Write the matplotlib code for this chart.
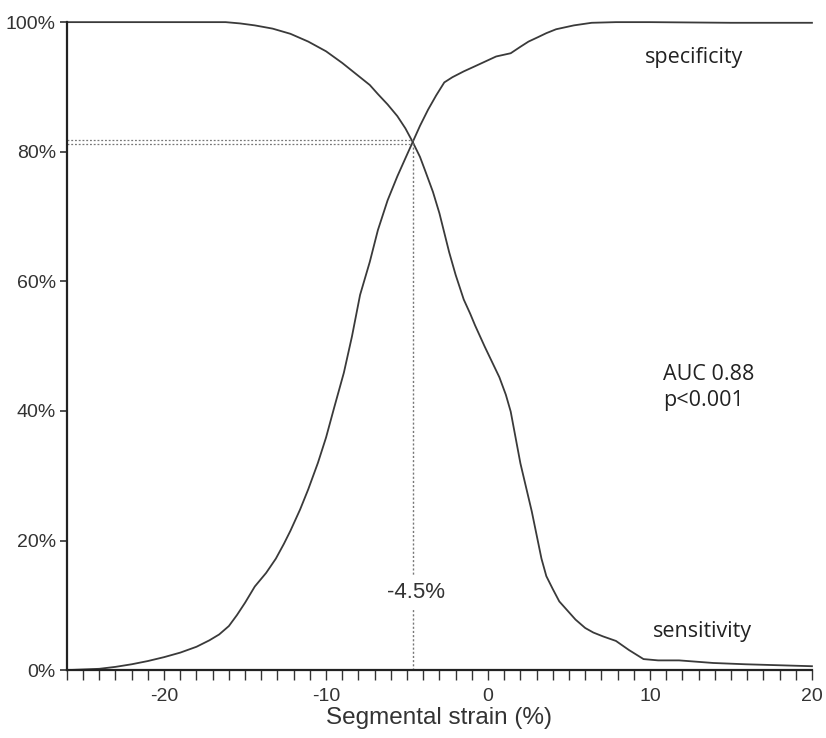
import matplotlib
matplotlib.use("Agg")
import matplotlib.pyplot as plt
from matplotlib.ticker import MultipleLocator, FixedLocator

plt.rcParams["axes.unicode_minus"] = False

# specificity curve (rising)
spec_x = [-26, -24, -23, -22, -21, -20, -19, -18, -17.2, -16.6, -16, -15.5, -15, -14.4,
          -13.7, -13.1, -12.6, -12.2, -11.6, -11.1, -10.5, -10.0, -9.5, -8.9, -8.4,
          -7.9, -7.3, -6.8, -6.2, -5.6, -5.1, -4.65, -4.2, -3.7, -3.2, -2.7, -2.2,
          -1.5, -0.8, 0.5, 1.4, 2.0, 2.5, 3.1, 3.6, 4.2, 5.3, 6.4, 7.9, 10, 15, 20]
spec_y = [0, 0.2, 0.5, 0.9, 1.4, 2.0, 2.7, 3.6, 4.6, 5.5, 6.8, 8.5, 10.4, 12.9,
          15.0, 17.2, 19.5, 21.5, 24.8, 27.9, 32.0, 35.9, 40.5, 45.9, 51.5,
          57.9, 63.0, 67.9, 72.5, 76.2, 79.0, 81.5, 84.0, 86.5, 88.7, 90.7, 91.5,
          92.4, 93.2, 94.7, 95.2, 96.2, 97.0, 97.7, 98.3, 98.9, 99.5, 99.9, 100, 100, 99.9, 99.9]

# sensitivity curve (falling)
sens_x = [-26, -20, -18, -16.2, -15.3, -14.4, -13.3, -12.2, -11.1, -10.0, -9.0, -7.9,
          -7.3, -6.8, -6.2, -5.6, -5.1, -4.65, -4.2, -3.9, -3.4, -3.0, -2.7, -2.4,
          -2.0, -1.5, -1.1, -0.8, -0.2, 0.7, 1.1, 1.4, 2.0, 2.7, 3.3, 3.6, 4.0, 4.4,
          4.9, 5.4, 6.0, 6.5, 7.1, 7.9, 8.7, 9.6, 10.5, 11.8, 13.9, 15.9, 20]
sens_y = [100, 100, 100, 100, 99.8, 99.5, 99.0, 98.2, 97.0, 95.5, 93.7, 91.5,
          90.3, 88.9, 87.3, 85.5, 83.6, 81.5, 79.2, 77.2, 73.8, 70.5, 67.5, 64.5,
          61.0, 57.2, 55.0, 53.2, 49.9, 45.2, 42.5, 39.9, 31.9, 24.5, 17.2, 14.5, 12.5, 10.6,
          9.2, 7.8, 6.5, 5.8, 5.2, 4.5, 3.1, 1.7, 1.5, 1.5, 1.1, 0.9, 0.6]

cutoff_x = -4.65
cutoff_y = 81.5
cutoff_label = "-4.5%"

y_ticks = [0, 20, 40, 60, 80, 100]
y_labels = ["0%", "20%", "40%", "60%", "80%", "100%"]
x_ticks = [-20, -10, 0, 10, 20]

fig = plt.figure(figsize=(8.26, 7.38), dpi=100)
ax = fig.add_axes([0.081, 0.092, 0.902, 0.878])

line_col = "#3a3a3a"
ax.plot(spec_x, spec_y, color=line_col, lw=1.3, clip_on=False)
ax.plot(sens_x, sens_y, color=line_col, lw=1.3, clip_on=False)

# cut-off guide lines
ax.plot([-26, cutoff_x], [cutoff_y + 0.25, cutoff_y + 0.25], color="#777777", lw=0.9, ls=(0, (1.5, 1.5)))
ax.plot([-26, cutoff_x], [cutoff_y - 0.25, cutoff_y - 0.25], color="#777777", lw=0.9, ls=(0, (1.5, 1.5)))
ax.plot([cutoff_x, cutoff_x], [0, cutoff_y], color="#777777", lw=1.0, ls=(0, (1.5, 1.5)))
ax.text(cutoff_x + 0.2, 12.0, cutoff_label, ha="center", va="center", fontsize=16,
        family="Liberation Sans", color="#333333",
        bbox=dict(facecolor="white", edgecolor="none", pad=5))

ann_font = "Open Sans"
ax.text(9.7, 94.6, "specificity", ha="left", va="center", fontsize=15.5, family=ann_font, color="#222222")
ax.text(10.2, 5.9, "sensitivity", ha="left", va="center", fontsize=15.5, family=ann_font, color="#222222")
ax.text(10.8, 43.6, "AUC 0.88\np<0.001", ha="left", va="center", fontsize=15.5,
        family=ann_font, color="#222222", linespacing=1.35)

ax.set_xlim(-26, 20)
ax.set_ylim(0, 100)
ax.xaxis.set_major_locator(FixedLocator(x_ticks))
ax.xaxis.set_minor_locator(MultipleLocator(1))
ax.set_yticks(y_ticks)
ax.set_yticklabels(y_labels)

for s in ["top", "right"]:
    ax.spines[s].set_visible(False)
for s in ["left", "bottom"]:
    ax.spines[s].set_color("#222222")
    ax.spines[s].set_linewidth(1.6)

ax.tick_params(axis="x", which="both", direction="out", length=7, width=1.0, color="#333333",
               labelsize=14, labelcolor="#333333", pad=6)
ax.tick_params(axis="y", direction="out", length=5, width=1.2, color="#333333",
               labelsize=14, labelcolor="#333333", pad=3)
for lab in ax.get_xticklabels() + ax.get_yticklabels():
    lab.set_family("Liberation Sans")

ax.set_xlabel("Segmental strain (%)", fontsize=17.5, family="Liberation Sans", color="#333333", labelpad=1)

fig.savefig("out.png", dpi=100, facecolor="white")
